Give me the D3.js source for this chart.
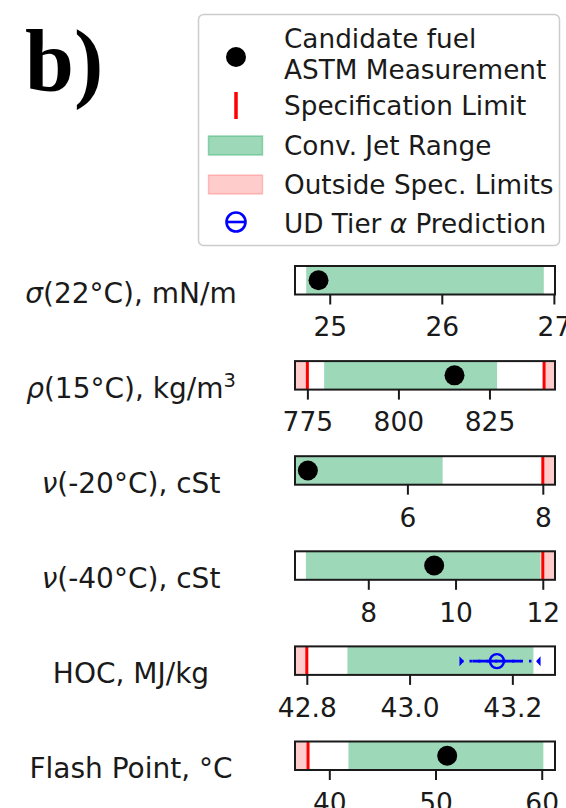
<!DOCTYPE html>
<html>
<head>
<meta charset="utf-8">
<script src="https://cdn.jsdelivr.net/npm/d3@7"></script>
<style>
  html, body { margin: 0; padding: 0; background: #fff; }
  svg { display: block; font-family: "DejaVu Sans", sans-serif; }
</style>
</head>
<body>
<svg id="chart" width="566" height="808"></svg>
<script>
// Fuel property panels: one horizontal strip per property
const properties = ["σ(22°C), mN/m", "ρ(15°C), kg/m^3", "ν(-20°C), cSt", "ν(-40°C), cSt", "HOC, MJ/kg", "Flash Point, °C"];
const axisMin = [24.69, 771.6, 4.34, 6.32, 42.777, 36.77];
const axisMax = [27.01, 843.0, 8.18, 12.28, 43.283, 61.25];
const tickValues = [[25, 26, 27], [775, 800, 825], [6, 8], [8, 10, 12], [42.8, 43.0, 43.2], [40, 50, 60]];
const tickFormats = ["d", "d", "d", "d", ".1f", "d"];

// Conventional jet fuel range
const jetLow = [24.79, 779.6, 4.30, 6.57, 42.879, 41.8];
const jetHigh = [26.91, 827.1, 6.52, 11.95, 43.241, 60.15];

// Specification limits (null = no limit on that side)
const specMin = [null, 775, null, null, 42.8, 38];
const specMax = [null, 840, 8, 12, null, null];

// Candidate fuel ASTM measurements (null = not measured)
const measured = [24.90, 815.4, 4.53, 9.51, null, 51.1];

// UD Tier α prediction (HOC only): mean, inner interval, outer interval
const predIndex = 4;
const predMean = 43.170;
const predInner = [43.122, 43.217];
const predOuter = [43.100, 43.252];

// Legend entries
const legendLabels = [["Candidate fuel", "ASTM Measurement"], ["Specification Limit"], ["Conv. Jet Range"], ["Outside Spec. Limits"], ["UD Tier α Prediction"]];

const GREEN = "rgba(60,179,113,0.5)";
const PINK = "rgba(255,0,0,0.2)";
const INK = "#1a1a1a";

const svg = d3.select("#chart");

// Panel label "b)"
svg.append("text")
  .attr("x", 25).attr("y", 91)
  .attr("font-family", "'Liberation Serif', 'Times New Roman', serif")
  .attr("font-weight", "bold")
  .attr("font-size", 88)
  .attr("fill", "#000")
  .text("b)");

// Layout of the strips
const left = 295, right = 555;
const rowTop = d3.scaleLinear().domain([0, 1]).range([266, 266 + 95.1]);
const rowH = 28.5;

properties.forEach((label, i) => {
  const top = rowTop(i);
  const x = d3.scaleLinear().domain([axisMin[i], axisMax[i]]).range([left, right]).clamp(true);
  const g = svg.append("g").attr("class", "panel");

  // Outside-spec shading
  if (specMin[i] !== null) {
    g.append("rect").attr("x", x(axisMin[i])).attr("y", top)
      .attr("width", x(specMin[i]) - x(axisMin[i])).attr("height", rowH).attr("fill", PINK);
  }
  if (specMax[i] !== null) {
    g.append("rect").attr("x", x(specMax[i])).attr("y", top)
      .attr("width", x(axisMax[i]) - x(specMax[i])).attr("height", rowH).attr("fill", PINK);
  }

  // Conventional jet range
  g.append("rect").attr("x", x(jetLow[i])).attr("y", top)
    .attr("width", x(jetHigh[i]) - x(jetLow[i])).attr("height", rowH)
    .attr("fill", GREEN);

  // Specification limit lines
  [specMin[i], specMax[i]].filter(v => v !== null).forEach(v => {
    g.append("line").attr("x1", x(v)).attr("x2", x(v))
      .attr("y1", top).attr("y2", top + rowH)
      .attr("stroke", "#ff0000").attr("stroke-width", 3);
  });

  // Measurement marker
  if (measured[i] !== null) {
    g.append("circle").attr("cx", x(measured[i])).attr("cy", top + rowH / 2)
      .attr("r", 10).attr("fill", "#000");
  }

  // Prediction with intervals
  if (i === predIndex) {
    const cy = top + rowH / 2 + 0.5;
    g.append("line").attr("x1", x(predOuter[0])).attr("x2", x(predOuter[1]))
      .attr("y1", cy).attr("y2", cy)
      .attr("stroke", "#0000ff").attr("stroke-width", 2.8)
      .attr("stroke-dasharray", "2.5,6");
    g.append("line").attr("x1", x(predInner[0])).attr("x2", x(predInner[1]))
      .attr("y1", cy).attr("y2", cy)
      .attr("stroke", "#0000ff").attr("stroke-width", 2.8);
    const cx0 = x(predOuter[0]), cx1 = x(predOuter[1]);
    g.append("path").attr("d", `M${cx0 - 1.5},${cy - 5}L${cx0 + 3},${cy}L${cx0 - 1.5},${cy + 5}Z`).attr("fill", "#0000ff");
    g.append("path").attr("d", `M${cx1 + 1.5},${cy - 5}L${cx1 - 3},${cy}L${cx1 + 1.5},${cy + 5}Z`).attr("fill", "#0000ff");
    g.append("circle").attr("cx", x(predMean)).attr("cy", cy).attr("r", 7)
      .attr("fill", "none").attr("stroke", "#0000ff").attr("stroke-width", 2.4);
  }

  // Frame
  g.append("rect").attr("x", left).attr("y", top).attr("width", right - left).attr("height", rowH)
    .attr("fill", "none").attr("stroke", INK).attr("stroke-width", 2);

  // Bottom axis
  const axis = d3.axisBottom(x).tickValues(tickValues[i]).tickSize(10).tickPadding(13)
    .tickFormat(d3.format(tickFormats[i]));
  const ag = g.append("g").attr("transform", `translate(0,${top + rowH})`).call(axis);
  ag.select(".domain").remove();
  ag.selectAll(".tick line").attr("stroke", INK).attr("stroke-width", 2);
  ag.selectAll(".tick text").attr("fill", INK)
    .attr("font-family", "'DejaVu Sans', sans-serif").attr("font-size", 26.5);

  // Property label
  const t = svg.append("text").attr("x", 131).attr("y", top + rowH + 8)
    .attr("text-anchor", "middle").attr("font-size", 28).attr("fill", INK);
  let rest = label;
  if ("σρν".includes(rest[0])) {
    t.append("tspan").attr("font-style", "italic").text(rest[0]);
    rest = rest.slice(1);
  }
  const parts = rest.split("^");
  t.append("tspan").text(parts[0]);
  if (parts[1]) {
    t.append("tspan").attr("font-size", 19.5).attr("dy", -11).text(parts[1]);
  }
});

// Legend
const lg = svg.append("g").attr("class", "legend");
lg.append("rect").attr("x", 198.5).attr("y", 14.5).attr("width", 361).attr("height", 231)
  .attr("rx", 5).attr("fill", "#fff").attr("stroke", "#cccccc").attr("stroke-width", 1.5);

const hx = 236, tx = 284;
const baselines = [[48, 79], [115], [155], [194], [233]];
legendLabels.forEach((lines, k) => {
  lines.forEach((s, j) => {
    const t = lg.append("text").attr("x", tx).attr("y", baselines[k][j])
      .attr("font-size", 26.3).attr("fill", INK);
    if (s.includes("α")) {
      const [a, b] = s.split("α");
      t.append("tspan").text(a);
      t.append("tspan").attr("font-style", "italic").text("α");
      t.append("tspan").text(b);
    } else {
      t.text(s);
    }
  });
});
lg.append("circle").attr("cx", hx).attr("cy", 57).attr("r", 10).attr("fill", "#000");
lg.append("line").attr("x1", hx).attr("x2", hx).attr("y1", 92).attr("y2", 119)
  .attr("stroke", "#ff0000").attr("stroke-width", 3.5);
lg.append("rect").attr("x", 208.5).attr("y", 136).attr("width", 54).attr("height", 19)
  .attr("fill", GREEN).attr("stroke", GREEN).attr("stroke-width", 1.5);
lg.append("rect").attr("x", 208.5).attr("y", 175).attr("width", 54).attr("height", 19)
  .attr("fill", PINK).attr("stroke", PINK).attr("stroke-width", 1.5);
lg.append("circle").attr("cx", hx).attr("cy", 222).attr("r", 9.5)
  .attr("fill", "none").attr("stroke", "#0000ff").attr("stroke-width", 2.6);
lg.append("line").attr("x1", hx - 10).attr("x2", hx + 10).attr("y1", 222).attr("y2", 222)
  .attr("stroke", "#0000ff").attr("stroke-width", 2.6);
</script>
</body>
</html>
